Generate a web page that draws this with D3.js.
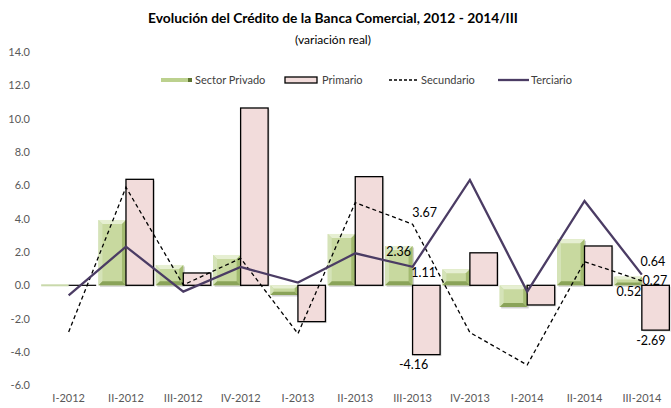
<!DOCTYPE html>
<html>
<head>
<meta charset="utf-8">
<script src="https://cdn.jsdelivr.net/npm/d3@7"></script>
<style>
  body { margin: 0; background: #fff; }
  svg { display: block; font-family: Lato, "Open Sans", sans-serif; }
</style>
</head>
<body>
<div id="chart"></div>
<script>
// Data
const quarters = ['I-2012', 'II-2012', 'III-2012', 'IV-2012', 'I-2013', 'II-2013', 'III-2013', 'IV-2013', 'I-2014', 'II-2014', 'III-2014'];
const sectorPrivado = [0.0, 3.92, 1.22, 1.82, -0.58, 3.08, 2.36, 0.96, -1.3, 2.76, 0.52];
const primario = [0.0, 6.36, 0.74, 10.64, -2.18, 6.52, -4.16, 1.95, -1.18, 2.36, -2.69];
const secundario = [-2.8, 5.88, 0.02, 1.62, -2.9, 4.96, 3.67, -2.83, -4.78, 1.42, 0.27];
const terciario = [-0.6, 2.32, -0.38, 1.1, 0.16, 1.92, 1.11, 6.32, -0.38, 5.06, 0.64];
const yTicks = [-6, -4, -2, 0, 2, 4, 6, 8, 10, 12, 14];

const svgWidth = 671;
const svgHeight = 408;

// plain hyphen for negatives, like the original
const locale = d3.formatLocale({ decimal: '.', thousands: ',', grouping: [3], currency: ['', ''], minus: '-' });
const fmt1 = locale.format('.1f');
const fmt2 = locale.format('.2f');

const svg = d3.select('#chart')
    .append('svg')
    .attr('width', svgWidth)
    .attr('height', svgHeight);

// Scales
const x = d3.scaleBand()
    .domain(quarters)
    .range([40, 670.5]);

const y = d3.scaleLinear()
    .domain([-6, 14])
    .range([385.3, 52]);

const barW = x.step() * 0.48;
const cx = d => x(d) + x.step() / 2;

// Y axis labels (no line)
const yAxis = svg.append('g')
    .attr('transform', 'translate(30,0)')
    .call(d3.axisLeft(y).tickValues(yTicks).tickFormat(fmt1).tickSize(0).tickPadding(0));
yAxis.select('.domain').remove();
yAxis.selectAll('text')
    .style('font-size', '11px')
    .style('fill', '#595959')
    .style('font-family', 'Lato, sans-serif');

// X axis labels
const xAxis = svg.append('g')
    .attr('transform', 'translate(0,394)')
    .call(d3.axisBottom(x).tickSize(0).tickPadding(0));
xAxis.select('.domain').remove();
xAxis.selectAll('text')
    .style('font-size', '11px')
    .style('fill', '#595959')
    .style('font-family', 'Lato, sans-serif');

// Sector Privado bars (bevelled like the Excel original)
const green = svg.append('g');
sectorPrivado.forEach((v, i) => {
    const x0 = cx(quarters[i]) - barW;
    const x1 = x0 + barW;
    const y0 = Math.min(y(v), y(0));
    const y1 = Math.max(y(v), y(0));
    const h = y1 - y0;
    if (h < 1.5) {
        green.append('rect')
            .attr('x', x0).attr('y', y(0) - 1)
            .attr('width', barW).attr('height', 2)
            .attr('fill', '#c9d9ab');
        return;
    }
    const b = Math.min(4, h / 3);
    // soft shadow
    green.append('rect')
        .attr('x', x0 + 1.5).attr('y', y0 + 1.5)
        .attr('width', barW).attr('height', h)
        .attr('fill', '#000').attr('opacity', 0.18);
    // face
    green.append('rect')
        .attr('x', x0).attr('y', y0)
        .attr('width', barW).attr('height', h)
        .attr('fill', '#c8d99f');
    const edges = [
        { c: '#e6efd2', p: [[x0, y0], [x1, y0], [x1 - b, y0 + b], [x0 + b, y0 + b]] },
        { c: '#d5e3b8', p: [[x0, y0], [x0 + b, y0 + b], [x0 + b, y1 - b], [x0, y1]] },
        { c: '#a3bb70', p: [[x1, y0], [x1, y1], [x1 - b, y1 - b], [x1 - b, y0 + b]] },
        { c: '#8aa359', p: [[x0, y1], [x0 + b, y1 - b], [x1 - b, y1 - b], [x1, y1]] }
    ];
    edges.forEach(e => {
        green.append('polygon')
            .attr('points', e.p.map(pt => pt.join(',')).join(' '))
            .attr('fill', e.c);
    });
});

// Primario bars
const pink = svg.append('g');
primario.forEach((v, i) => {
    const x0 = cx(quarters[i]);
    const top = Math.min(y(v), y(0));
    const h = Math.abs(y(v) - y(0));
    if (h < 1.5) {
        pink.append('line')
            .attr('x1', x0).attr('x2', x0 + barW)
            .attr('y1', y(0)).attr('y2', y(0))
            .attr('stroke', '#000').attr('stroke-width', 1.2);
        return;
    }
    pink.append('rect')
        .attr('x', x0 + 1.5).attr('y', top + 1.5)
        .attr('width', barW).attr('height', h)
        .attr('fill', '#000').attr('opacity', 0.12);
    pink.append('rect')
        .attr('x', x0).attr('y', top)
        .attr('width', barW).attr('height', h)
        .attr('fill', '#f2dcdb')
        .attr('stroke', '#000')
        .attr('stroke-width', 1.3);
});

// Lines
const line = d3.line()
    .x((d, i) => cx(quarters[i]))
    .y(d => y(d));

svg.append('path')
    .datum(secundario)
    .attr('d', line)
    .attr('fill', 'none')
    .attr('stroke', '#000')
    .attr('stroke-width', 1.3)
    .attr('stroke-dasharray', '4,3');

svg.append('path')
    .datum(terciario)
    .attr('d', line)
    .attr('fill', 'none')
    .attr('stroke', '#4b3c64')
    .attr('stroke-width', 2.3);

// Data labels
const labelData = [
    { q: 'III-2013', v: secundario[6], dx: 12, dy: -12 },
    { q: 'III-2013', v: sectorPrivado[6], dx: -14, dy: 6 },
    { q: 'III-2013', v: terciario[6], dx: 11, dy: 6 },
    { q: 'III-2013', v: primario[6], dx: 1, dy: 10 },
    { q: 'III-2014', v: terciario[10], dx: 11, dy: -13 },
    { q: 'III-2014', v: secundario[10], dx: 13, dy: 0 },
    { q: 'III-2014', v: sectorPrivado[10], dx: -13, dy: 15 },
    { q: 'III-2014', v: primario[10], dx: 9, dy: 10 }
];
svg.append('g')
    .selectAll('text')
    .data(labelData)
    .enter()
    .append('text')
    .attr('x', d => cx(d.q) + d.dx)
    .attr('y', d => y(d.v) + d.dy)
    .attr('dy', '0.35em')
    .attr('text-anchor', 'middle')
    .style('font-size', '12.5px')
    .style('fill', '#000')
    .text(d => fmt2(d.v));

// Title
svg.append('text')
    .attr('x', 333)
    .attr('y', 23)
    .attr('text-anchor', 'middle')
    .style('font-size', '13.8px')
    .style('font-weight', 'bold')
    .text('Evolución del Crédito de la Banca Comercial, 2012 - 2014/III');

svg.append('text')
    .attr('x', 333)
    .attr('y', 44)
    .attr('text-anchor', 'middle')
    .style('font-size', '12px')
    .text('(variación real)');

// Legend
const legend = svg.append('g').style('font-size', '11px').style('fill', '#404040');
legend.append('rect').attr('x', 161).attr('y', 78).attr('width', 31).attr('height', 4).attr('fill', '#bcd18e');
legend.append('rect').attr('x', 188).attr('y', 78).attr('width', 4).attr('height', 4).attr('fill', '#5f7530');
legend.append('text').attr('x', 195).attr('y', 84).text('Sector Privado');
legend.append('rect').attr('x', 285).attr('y', 77).attr('width', 32).attr('height', 6)
    .attr('fill', '#f2dcdb').attr('stroke', '#000').attr('stroke-width', 1.3);
legend.append('text').attr('x', 322).attr('y', 84).text('Primario');
legend.append('line').attr('x1', 389).attr('x2', 419).attr('y1', 80).attr('y2', 80)
    .attr('stroke', '#000').attr('stroke-width', 1.3).attr('stroke-dasharray', '3,2');
legend.append('text').attr('x', 421).attr('y', 84).text('Secundario');
legend.append('line').attr('x1', 498).attr('x2', 529).attr('y1', 80).attr('y2', 80)
    .attr('stroke', '#4b3c64').attr('stroke-width', 2.3);
legend.append('text').attr('x', 531).attr('y', 84).text('Terciario');
</script>
</body>
</html>
